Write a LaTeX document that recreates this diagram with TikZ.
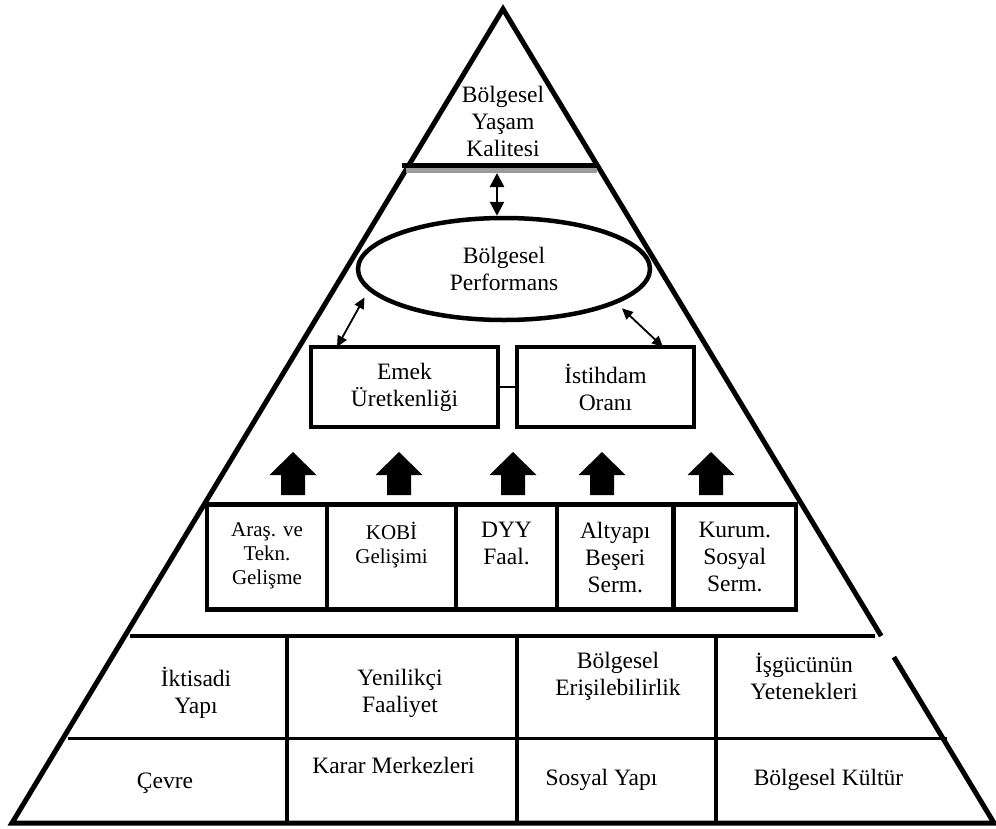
\documentclass[tikz,border=0pt]{standalone}
\usepackage{fontspec}
\setmainfont{Liberation Serif}
\usepackage{tikz}
\usetikzlibrary{
    positioning,
    arrows.meta,
    calc,
    shapes.geometric
}
\definecolor{barGray}{RGB}{155, 155, 155}

\begin{document}
\begin{tikzpicture}[x=1pt, y=-1pt,
    txt/.style={font=\fontsize{23.5}{27}\selectfont, align=center, inner sep=0pt},
    smalltxt/.style={font=\fontsize{21}{24}\selectfont, align=center, inner sep=0pt},
    framebox/.style={draw, line width=4.5pt, inner sep=0pt, outer sep=0pt, minimum height=80pt},
    cellbox/.style={draw, line width=4.5pt, inner sep=0pt, outer sep=0pt, minimum height=105pt},
    dblarrow/.style={{Triangle[length=11pt, width=10pt]}-{Triangle[length=11pt, width=10pt]}, line width=1.8pt},
    grid/.style={line width=3.5pt}
]
            \useasboundingbox (0,0) rectangle (996,828);
            % pyramid outline, right side broken at the table
            \coordinate (apex) at (503,9);
            \coordinate (bl) at (12,823);
            \coordinate (br) at (994,823);
            \coordinate (gapTop) at ($(apex)!0.7703!(br)$);
            \coordinate (gapBot) at ($(apex)!0.7961!(br)$);
            \draw[line width=5pt, line join=miter] (gapTop) -- (apex) -- (bl) -- (br) -- (gapBot);
            % top of the pyramid
            \draw[line width=4.5pt, barGray] (406,170.5) -- (597,170.5);
            \draw[line width=4.5pt] (402,165.5) -- (597,165.5);
            \node[txt] (quality) at (503,121) {Bölgesel\\Yaşam\\Kalitesi};
            \node[ellipse, draw, line width=4.5pt, minimum width=292pt, minimum height=102pt, txt] (perf) at (504,269) {Bölgesel\\Performans};
            \coordinate (barArrow) at (497,173);
            \draw[{Triangle[length=14pt, width=14pt]}-{Triangle[length=14pt, width=14pt]}, line width=2.5pt] (barArrow) -- (barArrow |- perf.north);
            % labour boxes
            \node[framebox, txt, minimum width=187pt] (emek) at (404.5,387) {Emek\\Üretkenliği};
            \node[framebox, txt, minimum width=177pt, right=19pt of emek] (istihdam) {İstihdam\\Oranı};
            \draw[line width=2.5pt] (emek.east) -- (istihdam.west);
            \draw[dblarrow, shorten <=8pt] (perf.189) -- ($(emek.north west)+(26,0)$);
            \draw[dblarrow, shorten <=7pt] (perf.343) -- ($(istihdam.north east)+(-31,0)$);
            % block arrows
            \foreach \ax in {293, 399, 513, 602, 711}
                \fill (\ax,452) -- ++(23.5,23) -- ++(-11.5,0) -- ++(0,20) -- ++(-24,0) -- ++(0,-20) -- ++(-11.5,0) -- cycle;
            % row of factors
            \node[cellbox, minimum width=120pt] (arge) at (267,557) {};
            \node[cellbox, minimum width=129pt, right=0pt of arge] (kobi) {};
            \node[cellbox, minimum width=101pt, right=0pt of kobi] (dyy) {};
            \node[cellbox, minimum width=116.5pt, right=0pt of dyy] (altyapi) {};
            \node[cellbox, minimum width=122.5pt, right=0pt of altyapi] (kurum) {};
            \node[smalltxt, below=17.5pt of arge.north] (argeText) {Araş. ve\\Tekn.\\Gelişme};
            \node[smalltxt, below=17.5pt of kobi.north] (kobiText) {KOBİ\\Gelişimi};
            \node[txt, below=17.5pt of dyy.north] (dyyText) {DYY\\Faal.};
            \node[txt, below=17.5pt of altyapi.north] (altyapiText) {Altyapı\\Beşeri\\Serm.};
            \node[txt, below=17.5pt of kurum.north] (kurumText) {Kurum.\\Sosyal\\Serm.};
            % base table
            \draw[grid] (130,636) -- (875,636);
            \draw[grid] (68,738.5) -- (947,738.5);
            \foreach \gx in {287, 517, 716}
                \draw[grid] (\gx,636) -- (\gx,823);
            \node[txt] (economy) at (196,693) {İktisadi\\Yapı};
            \node[txt] (innovation) at (400,693) {Yenilikçi\\Faaliyet};
            \node[txt] (access) at (618,676) {Bölgesel\\Erişilebilirlik};
            \node[txt] (skills) at (804,676) {İşgücünün\\Yetenekleri};
            \node[txt] (environment) at (165,783) {Çevre};
            \node[txt] (decision) at (393.5,765) {Karar Merkezleri};
            \node[txt] (social) at (601.5,780) {Sosyal Yapı};
            \node[txt] (culture) at (828.5,780) {Bölgesel Kültür};
        \end{tikzpicture}
\end{document}
